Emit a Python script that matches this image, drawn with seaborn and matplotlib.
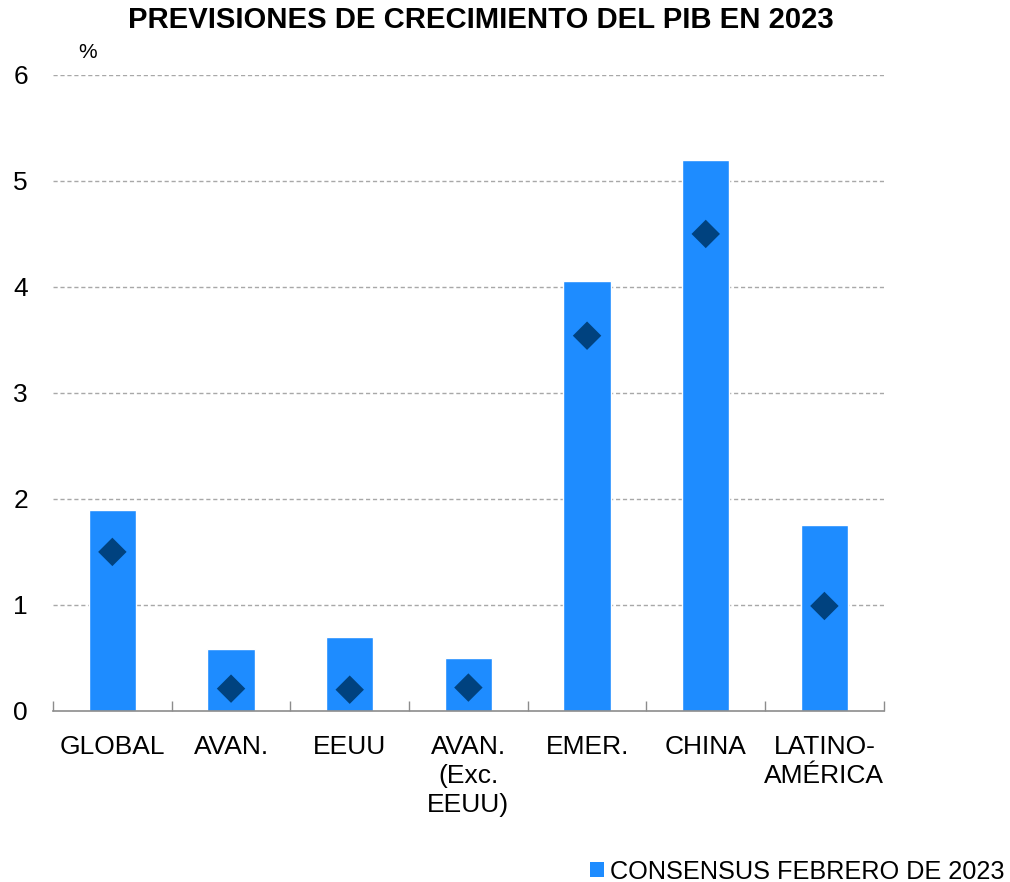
import matplotlib
matplotlib.use("Agg")
import matplotlib.pyplot as plt
from matplotlib.patches import Patch
import pandas as pd
import seaborn as sns

categories = ["GLOBAL", "AVAN.", "EEUU", "AVAN.\n(Exc.\nEEUU)", "EMER.", "CHINA", "LATINO-\nAMÉRICA"]
consenso_feb_2023 = [1.90, 0.58, 0.70, 0.50, 4.06, 5.20, 1.75]
prevision_anterior = [1.50, 0.21, 0.20, 0.22, 3.54, 4.50, 0.99]
y_ticks = [0, 1, 2, 3, 4, 5, 6]

BAR_COLOR = "#1E8CFF"
DIAMOND_COLOR = "#00427F"

sns.set_theme(style="white")
plt.rcParams["font.family"] = ["Liberation Sans", "DejaVu Sans"]
plt.rcParams["text.color"] = "black"
plt.rcParams["xtick.color"] = "black"
plt.rcParams["ytick.color"] = "black"

df = pd.DataFrame({"region": categories,
                   "consenso": consenso_feb_2023,
                   "anterior": prevision_anterior})

fig = plt.figure(figsize=(10.10, 8.82), dpi=100)
ax = fig.add_axes([0.0525, 0.194, 0.8225, 0.721])

sns.barplot(data=df, x="region", y="consenso", color=BAR_COLOR, width=0.4,
            saturation=1, ax=ax, zorder=2)
sns.scatterplot(data=df, x="region", y="anterior", marker="D", s=210,
                color=DIAMOND_COLOR, edgecolor="none", ax=ax, zorder=3)

ax.set_xlim(-0.5, len(categories) - 0.5)
ax.set_ylim(0, 6)
ax.set_yticks(y_ticks)
ax.set_yticklabels([str(t) for t in y_ticks])
ax.set_xlabel("")
ax.set_ylabel("")

# dashed horizontal grid
for t in y_ticks[1:]:
    ax.axhline(t, color="#A8A8A8", lw=1.0, ls=(0, (3, 2)), zorder=1)

for s in ["left", "right", "top"]:
    ax.spines[s].set_visible(False)
ax.spines["bottom"].set_color("#8C8C8C")
ax.spines["bottom"].set_linewidth(1.2)

# category separators on the baseline
ax.set_xticks([i - 0.5 for i in range(len(categories) + 1)], minor=True)
ax.tick_params(axis="x", which="minor", direction="in", length=7, width=1.0,
               color="#8C8C8C", bottom=True)
ax.tick_params(axis="x", which="major", length=0, pad=17, labelsize=19,
               labelcolor="black")
ax.tick_params(axis="y", length=0, pad=18, labelsize=19, labelcolor="black")
for lbl in ax.get_xticklabels():
    lbl.set_linespacing(1.27)
    lbl.set_verticalalignment("top")

ax.text(0.03, 1.035, "%", transform=ax.transAxes, fontsize=15, ha="left",
        va="center", color="black")

fig.text(0.476, 0.977, "PREVISIONES DE CRECIMIENTO DEL PIB EN 2023",
         ha="center", va="center", fontsize=21.1, fontweight="bold", color="black")

handle = Patch(facecolor=BAR_COLOR, edgecolor="none")
fig.legend([handle], ["CONSENSUS FEBRERO DE 2023"], loc="lower right",
           bbox_to_anchor=(1.01, -0.019), frameon=False, fontsize=18.2,
           handlelength=0.55, handleheight=0.55, handletextpad=0.25,
           borderaxespad=0.2, labelcolor="black")

fig.savefig("out.png", dpi=100, facecolor="white")
